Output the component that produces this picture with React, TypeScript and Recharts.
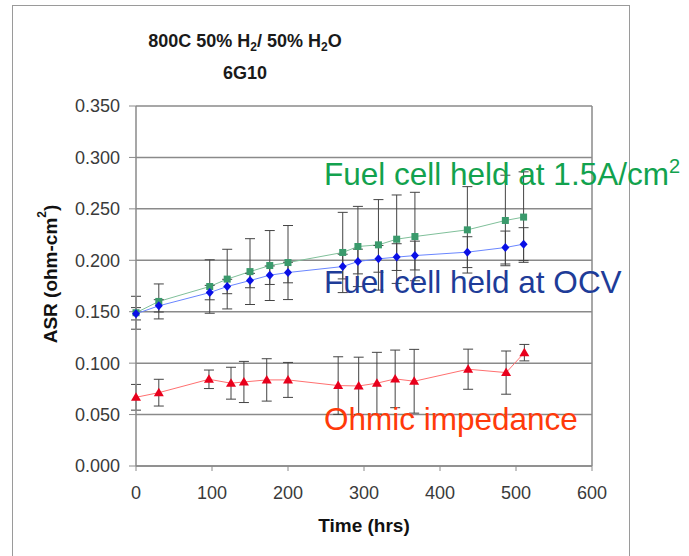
import { LineChart, Line, XAxis, YAxis, CartesianGrid, ErrorBar, ReferenceLine, Label } from 'recharts';

// time (hrs) for the two fuel cell series
const cellTime = [0, 30, 97, 120, 150, 176, 200, 272, 292, 319, 343, 367, 436, 486, 510];
const heldCurrent = [0.149, 0.160, 0.1745, 0.1817, 0.189, 0.1949, 0.1978, 0.2076, 0.2134, 0.215, 0.2205, 0.2231, 0.2296, 0.2387, 0.242];
const heldCurrentErr = [0.016, 0.017, 0.026, 0.029, 0.032, 0.034, 0.036, 0.039, 0.039, 0.044, 0.043, 0.043, 0.042, 0.044, 0.044];
const heldOcv = [0.148, 0.1557, 0.1686, 0.1745, 0.1803, 0.1855, 0.1881, 0.1939, 0.1988, 0.2014, 0.2031, 0.2046, 0.2079, 0.2124, 0.2157];
const heldOcvErr = [0.006, 0.006, 0.007, 0.007, 0.007, 0.009, 0.01, 0.012, 0.012, 0.013, 0.013, 0.014, 0.015, 0.016, 0.016];

const ohmicTime = [0, 30, 96, 125, 142, 172, 200, 266, 293, 317, 341, 366, 437, 487, 511];
const ohmic = [0.0668, 0.0713, 0.0843, 0.0805, 0.0817, 0.0837, 0.0837, 0.0782, 0.0778, 0.0805, 0.0847, 0.0824, 0.0941, 0.0908, 0.1102];
const ohmicErr = [0.0125, 0.013, 0.009, 0.0155, 0.02, 0.0206, 0.017, 0.028, 0.028, 0.03, 0.028, 0.031, 0.0195, 0.021, 0.008];

const xTicks = [0, 100, 200, 300, 400, 500, 600];
const yTicks = [0, 0.05, 0.1, 0.15, 0.2, 0.25, 0.3, 0.35];

const currentData = cellTime.map((t, i) => ({ t, v: heldCurrent[i], e: heldCurrentErr[i] }));
const ocvData = cellTime.map((t, i) => ({ t, v: heldOcv[i], e: heldOcvErr[i] }));
const ohmicData = ohmicTime.map((t, i) => ({ t, v: ohmic[i], e: ohmicErr[i] }));

const FONT = 'Arial, "Liberation Sans", sans-serif';
const GRID = '#8a8a8a';

const squareDot = (p: any) => (
    <rect key={`sq-${p.index}`} x={p.cx - 3.5} y={p.cy - 3.5} width={7} height={7} fill="#3a9a6c" />
);
const diamondDot = (p: any) => (
    <polygon key={`dm-${p.index}`} points={`${p.cx},${p.cy - 4.5} ${p.cx + 4},${p.cy} ${p.cx},${p.cy + 4.5} ${p.cx - 4},${p.cy}`} fill="#0a10e6" />
);
const triangleDot = (p: any) => (
    <polygon key={`tr-${p.index}`} points={`${p.cx},${p.cy - 5} ${p.cx + 5},${p.cy + 3.5} ${p.cx - 5},${p.cy + 3.5}`} fill="#e8001c" />
);

const yLabel = (props: any) => {
    const { x, y, height } = props.viewBox;
    const cx = x + 50;
    const cy = y + height / 2 - 12;
    return (
        <text x={cx} y={cy} transform={`rotate(-90, ${cx}, ${cy})`} textAnchor="middle" dominantBaseline="central"
            fontFamily={FONT} fontWeight="bold" fontSize={19} fill="#111">
            ASR (ohm-cm<tspan fontSize={12} dy={-8}>2</tspan><tspan dy={8}>)</tspan>
        </text>
    );
};

const xLabel = (props: any) => {
    const { x, width } = props.viewBox;
    return (
        <text x={x + width / 2} y={532} textAnchor="middle" fontFamily={FONT} fontWeight="bold" fontSize={19} fill="#111">
            Time (hrs)
        </text>
    );
};

const App = () => {
    return (
        <div style={{ position: 'absolute', left: 0, top: 0, width: 689, height: 556, background: '#fff', overflow: 'hidden' }}>
            <div style={{ position: 'absolute', left: 12, top: 5, width: 616, height: 600, border: '1.5px solid #9a9a9a' }} />
            <LineChart width={689} height={556} data={currentData}
                margin={{ top: 106, right: 97, bottom: 30, left: 0 }}
                style={{ position: 'absolute', left: 0, top: 0 }}>
                <CartesianGrid vertical={false} stroke={GRID} strokeWidth={1.5} />
                <ReferenceLine x={600} stroke={GRID} strokeWidth={1.5} />
                <XAxis type="number" dataKey="t" domain={[0, 600]} ticks={xTicks} height={60}
                    axisLine={{ stroke: GRID, strokeWidth: 1.5 }} tickLine={{ stroke: GRID }} tickSize={5} tickMargin={15}
                    tick={{ fontFamily: FONT, fontSize: 18, fill: '#3a3a3a' }}>
                    <Label content={xLabel} />
                </XAxis>
                <YAxis type="number" domain={[0, 0.35]} ticks={yTicks} width={136} interval={0}
                    tickFormatter={(v: number) => v.toFixed(3)}
                    axisLine={{ stroke: GRID, strokeWidth: 1.5 }} tickLine={{ stroke: GRID }} tickSize={7} tickMargin={9}
                    tick={{ fontFamily: FONT, fontSize: 18, fill: '#3a3a3a' }}>
                    <Label content={yLabel} />
                </YAxis>
                <Line data={ohmicData} dataKey="v" stroke="#ff7070" strokeWidth={1} dot={triangleDot} isAnimationActive={false}>
                    <ErrorBar dataKey="e" direction="y" width={5} stroke="#444" strokeWidth={1} />
                </Line>
                <Line data={currentData} dataKey="v" stroke="#80c09a" strokeWidth={1} dot={squareDot} isAnimationActive={false}>
                    <ErrorBar dataKey="e" direction="y" width={5} stroke="#444" strokeWidth={1} />
                </Line>
                <Line data={ocvData} dataKey="v" stroke="#6a86ff" strokeWidth={1} dot={diamondDot} isAnimationActive={false}>
                    <ErrorBar dataKey="e" direction="y" width={5} stroke="#444" strokeWidth={1} />
                </Line>
            </LineChart>
            <svg width={689} height={556} style={{ position: 'absolute', left: 0, top: 0, pointerEvents: 'none' }}>
                <g fontFamily={FONT} fontWeight="bold" fontSize={18} fill="#1a1a1a" textAnchor="middle">
                    <text x={245} y={47}>
                        800C 50% H<tspan fontSize={12} dy={4}>2</tspan><tspan dy={-4}>/ 50% H</tspan><tspan fontSize={12} dy={4}>2</tspan><tspan dy={-4}>O</tspan>
                    </text>
                    <text x={245} y={79}>6G10</text>
                </g>
                <g fontFamily={FONT} fontSize={31.5}>
                    <text x={324} y={184.5} fill="#12a24e">
                        Fuel cell held at 1.5A/cm<tspan fontSize={20} dy={-12}>2</tspan>
                    </text>
                    <text x={324} y={293} fill="#1e3c98">Fuel cell held at OCV</text>
                    <text x={324} y={430} fill="#ff3a0a">Ohmic impedance</text>
                </g>
            </svg>
        </div>
    );
};

export default App;
